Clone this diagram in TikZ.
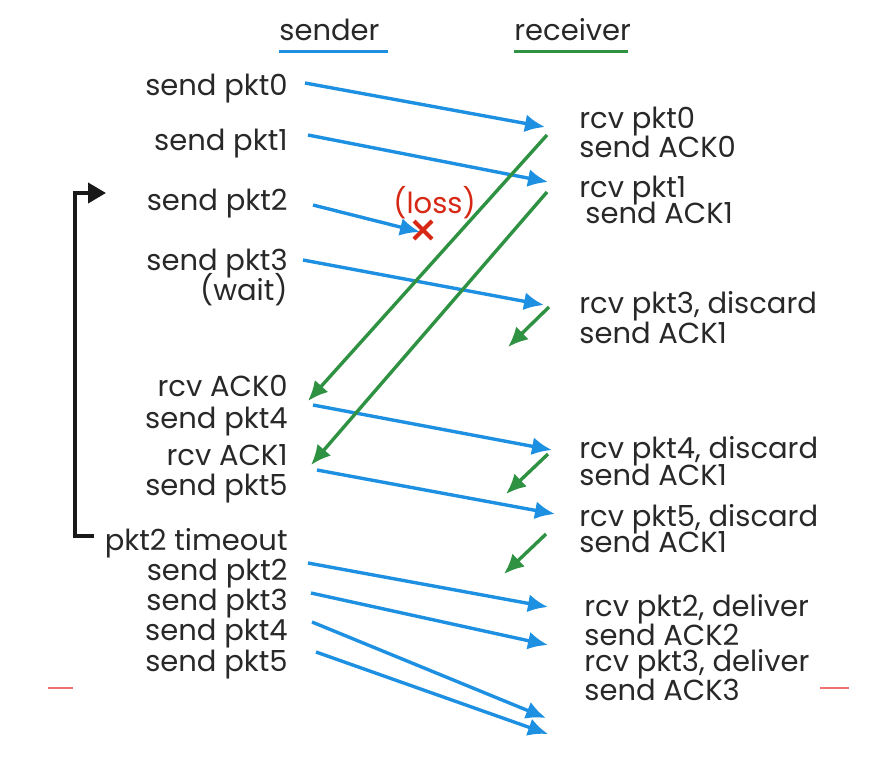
\documentclass[tikz,border=0pt]{standalone}
\usepackage{fontspec}
\setmainfont{Poppins}
\usetikzlibrary{arrows.meta}
\definecolor{pktblue}{RGB}{30,144,226}
\definecolor{ackgreen}{RGB}{46,146,66}
\definecolor{lossred}{RGB}{214,40,20}
\definecolor{txtgray}{RGB}{40,40,40}
\definecolor{markred}{RGB}{240,112,112}
\tikzset{
  lbl/.style={inner sep=0pt,text=txtgray,font=\fontsize{14.5}{17}\selectfont},
  pkt/.style={pktblue,line width=1.7pt,-{Latex[length=10pt,width=9pt]}},
  ack/.style={ackgreen,line width=1.7pt,-{Latex[length=10pt,width=9pt]}},
}
\begin{document}
\begin{tikzpicture}[x=0.5pt,y=-0.5pt]
\useasboundingbox (0,0) rectangle (892,756);
% Headings
\node[lbl,anchor=base west] (sender) at (279,40) {sender};
\node[lbl,anchor=base west] (receiver) at (514,40) {receiver};
\draw[pktblue,line width=1.5pt] (279,51) -- (388,51);
\draw[ackgreen,line width=1.5pt] (514,51) -- (628,51);

% Sender side
\foreach \n/\y/\t in {sp0/95/send pkt0, sp1/150/send pkt1, sp2/210/send pkt2,
    sp3/270/send pkt3, wt/300/(wait), ra0/396/rcv ACK0, sp4/428/send pkt4,
    ra1/465/rcv ACK1, sp5/495/send pkt5, tm/550/pkt2 timeout,
    rs2/580/send pkt2, rs3/610/send pkt3, rs4/640/send pkt4, rs5/671/send pkt5}
  \node[lbl,anchor=base east] (\n) at (288,\y) {\t};

% Receiver side
\foreach \n/\y/\t in {rp0/128/rcv pkt0, sa0/157/send ACK0, rp1/197/rcv pkt1,
    rp3/313/{rcv pkt3, discard}, sa13/343/send ACK1,
    rp4/458/{rcv pkt4, discard}, sa14/485/send ACK1,
    rp5/526/{rcv pkt5, discard}, sa15/552/send ACK1}
  \node[lbl,anchor=base west] (\n) at (579,\y) {\t};
\node[lbl,anchor=base west] (sa1) at (585,223) {send ACK1};
\foreach \n/\y/\t in {rd2/616/{rcv pkt2, deliver}, sa2/645/send ACK2,
    rd3/671/{rcv pkt3, deliver}, sa3/700/send ACK3}
  \node[lbl,anchor=base west] (\n) at (584,\y) {\t};

% Arrow end points
\foreach \n/\x/\y in {p0s/305/83, p0r/545/127, p1s/308/135, p1r/548/182,
    p2s/313/205, p2x/420/232, p3s/303/260, p3r/544/305,
    p4s/313/405, p4r/552/450, p5s/317/470, p5r/555/514,
    q2s/308/563, q2r/548/607, q3s/311/593, q3r/548/645,
    q4s/312/622, q4r/546/718, q5s/316/652, q5r/548/734,
    k0r/547/135, k0s/308/401, k1r/547/192, k1s/311/465,
    k3r/549/307, k3e/508/347, k4r/548/454, k4e/506/494,
    k5r/546/534, k5e/504/574}
  \coordinate (\n) at (\x,\y);

% Packets
\draw[pkt] (p0s) -- (p0r);
\draw[pkt] (p1s) -- (p1r);
\draw[pkt] (p2s) -- (p2x);
\draw[pkt] (p3s) -- (p3r);
\draw[pkt] (p4s) -- (p4r);
\draw[pkt] (p5s) -- (p5r);
\draw[pkt] (q2s) -- (q2r);
\draw[pkt] (q3s) -- (q3r);
\draw[pkt] (q4s) -- (q4r);
\draw[pkt] (q5s) -- (q5r);

% ACKs
\draw[ack] (k0r) -- (k0s);
\draw[ack] (k1r) -- (k1s);
\draw[ack] (k3r) -- (k3e);
\draw[ack] (k4r) -- (k4e);
\draw[ack] (k5r) -- (k5e);

% Loss
\node[lbl,anchor=base west,text=lossred] (loss) at (393,213) {(loss)};
\draw[lossred,line width=2pt] (414,221) -- (432,239) (432,221) -- (414,239);

% Timeout loop
\coordinate (lp0) at (94,536);
\coordinate (lp1) at (106,193);
\draw[black!90,line width=2pt,-{Triangle[length=9pt,width=10pt]}]
  (lp0) -- (75,536) -- (75,193) -- (lp1);

% Side marks
\draw[markred,line width=0.9pt] (48,688) -- (73,688);
\draw[markred,line width=0.9pt] (820,688) -- (849,688);
\end{tikzpicture}
\end{document}
